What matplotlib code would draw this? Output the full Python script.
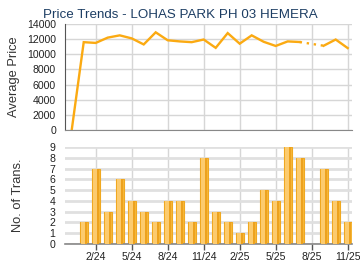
import numpy as np
import matplotlib
matplotlib.use("Agg")
import matplotlib.pyplot as plt

months = ["12/23", "1/24", "2/24", "3/24", "4/24", "5/24", "6/24", "7/24", "8/24", "9/24",
          "10/24", "11/24", "12/24", "1/25", "2/25", "3/25", "4/25", "5/25", "6/25", "7/25",
          "8/25", "9/25", "10/25", "11/25"]
avg_price = [0, 11600, 11500, 12200, 12500, 12100, 11300, 12900, 11850, 11700,
             11600, 11950, 10850, 12800, 11400, 12500, 11650, 11100, 11700, 11620,
             np.nan, 11130, 11950, 10820]
trans = [0, 2, 7, 3, 6, 4, 3, 2, 4, 4, 2, 8, 3, 2, 1, 2, 5, 4, 9, 8, 0, 7, 4, 2]
tick_labels = ["2/24", "5/24", "8/24", "11/24", "2/25", "5/25", "8/25", "11/25"]

plt.rcParams['font.family'] = ['Liberation Sans', 'DejaVu Sans']

fig = plt.figure(figsize=(3.6, 2.7), dpi=100)
W, H = 360, 270
left, right = 65, 352
ax1 = fig.add_axes([left / W, 1 - 130 / H, (right - left) / W, (130 - 24) / H])
ax2 = fig.add_axes([left / W, 1 - 244 / H, (right - left) / W, (244 - 147) / H])

x = np.arange(len(months))
tick_pos = [months.index(t) for t in tick_labels]
xlim = (-0.56, 23.36)
line_col = "#FBAA12"
grid_col = "#d6d6d6"
txt_col = "#222222"
fs = 7.6

# --- top: price line
ax1.set_xlim(*xlim)
ax1.set_ylim(0, 14000)
ax1.set_yticks(np.arange(0, 14001, 2000))
ax1.set_xticks(tick_pos)
ax1.set_xticklabels([])
ax1.tick_params(axis='x', length=0)
ax1.tick_params(axis='y', length=0, labelsize=fs, colors=txt_col, pad=6.5)
ax1.grid(True, color=grid_col, lw=1)
ax1.set_axisbelow(True)
for s in ["top", "right"]:
    ax1.spines[s].set_visible(False)
ax1.spines["left"].set_color("#555555")
ax1.spines["bottom"].set_color("#888888")
ax1.plot(x, avg_price, color=line_col, lw=1.7, solid_joinstyle='miter')
# dotted gap
gi = months.index("8/25")
ax1.plot([x[gi - 1], x[gi + 1]], [avg_price[gi - 1], avg_price[gi + 1]],
         color=line_col, lw=1.7, ls=(0, (1, 2)))
ax1.set_ylabel("Average Price", fontsize=9.3, color="#333333", labelpad=5)
fig.text(180 / W, 1 - 15 / H, "Price Trends - LOHAS PARK PH 03 HEMERA", fontsize=9.6,
         color="#1c3d63", ha="center", va="center")

# --- bottom: transactions
ax2.set_xlim(*xlim)
ax2.set_ylim(0, 9)
ax2.set_yticks(np.arange(0, 10, 1))
ax2.set_xticks(tick_pos)
ax2.set_xticklabels(tick_labels)
ax2.tick_params(axis='x', length=4, width=1, color="#555555", labelsize=fs, colors=txt_col, pad=2)
ax2.tick_params(axis='x', color="#555555")
ax2.tick_params(axis='y', length=0, labelsize=fs, colors=txt_col, pad=7)
ax2.yaxis.grid(True, color="#e0e0e0", lw=2)
ax2.xaxis.grid(True, color=grid_col, lw=1)
ax2.set_axisbelow(True)
for s in ["top", "right", "left"]:
    ax2.spines[s].set_visible(False)
ax2.spines["bottom"].set_color("#888888")
ax2.spines["bottom"].set_linewidth(1.2)
bw = 0.68
ax2.bar(x, trans, width=bw, color="#F6B73A", edgecolor="#F0A820", lw=0.8, zorder=2)
ax2.bar(x - bw * 0.12, trans, width=bw * 0.45, color="#FCCB6E", lw=0, zorder=3)
ax2.bar(x + bw * 0.3, trans, width=bw * 0.18, color="#EDA21E", lw=0, zorder=3)
ax2.set_ylabel("No. of Trans.", fontsize=9.3, color="#333333", labelpad=18)

fig.savefig("out.png", dpi=100)
